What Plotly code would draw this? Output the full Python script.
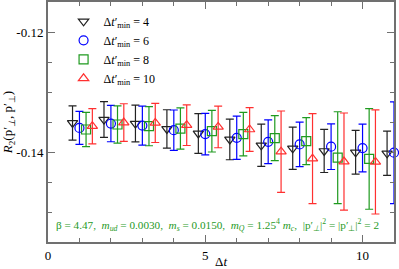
import plotly.graph_objects as go

dt = [1, 2, 3, 4, 5, 6, 7, 8, 9, 10, 11]

# Δt'_min = 4
r4 = [-0.13516, -0.13459, -0.13526, -0.13615, -0.13691, -0.1379, -0.13889, -0.13939, -0.13983, -0.14005, -0.14022]
e4 = [0.00286, 0.00298, 0.00306, 0.00319, 0.00331, 0.00339, 0.00352, 0.00352, 0.00359, 0.00364, 0.00369]
# Δt'_min = 6
r6 = [-0.13598, -0.13526, -0.1356, -0.13636, -0.13702, -0.13763, -0.1383, -0.13873, -0.13912, -0.13934, -0.14011]
e6 = [0.00276, 0.00303, 0.00326, 0.00336, 0.00347, 0.0036, 0.00364, 0.00372, 0.0038, 0.00397, 0.00848]
# Δt'_min = 8
r8 = [-0.13625, -0.13542, -0.1357, -0.13609, -0.13653, -0.13702, -0.13769, -0.13818, -0.14094, -0.14116]
e8 = [0.00286, 0.00311, 0.00326, 0.00344, 0.00347, 0.00364, 0.00375, 0.00392, 0.00765, 0.00838]
# Δt'_min = 10
r10 = [-0.1357, -0.1351, -0.13516, -0.13553, -0.13582, -0.13625, -0.13995, -0.14111, -0.1416, -0.14165]
e10 = [0.00293, 0.00314, 0.00326, 0.00339, 0.00347, 0.00364, 0.00678, 0.00749, 0.0081, 0.00868]

labels = ["4", "6", "8", "10"]
series = [r4, r6, r8, r10]
errors = [e4, e6, e8, e10]

offsets = [-0.22, 0.0, 0.21, 0.41]
colors = ["#222222", "#0000ff", "#1f9a1f", "#ff3030"]
symbols = ["triangle-down-open", "circle-open", "square-open", "triangle-up-open"]

FONT = "Liberation Serif"
fig = go.Figure()
for lab, ys, es, off, col, sym in zip(labels, series, errors, offsets, colors, symbols):
    xs = [t + off for t in dt[:len(ys)]]
    fig.add_trace(go.Scatter(
        x=xs, y=ys, mode="markers",
        name="Δ<i>t</i>′<sub>min</sub> = " + lab,
        marker=dict(symbol=sym, size=9, color=col, line=dict(width=1.2, color=col)),
        error_y=dict(type="data", array=es, visible=True, color=col, thickness=1.2, width=4),
        cliponaxis=False,
    ))

AX = "#707070"
axis_common = dict(
    showline=True, linecolor=AX, linewidth=2, mirror="allticks",
    ticks="inside", tickcolor=AX, tickwidth=1.2, ticklen=7,
    showgrid=False, zeroline=False, automargin=False,
    tickfont=dict(family=FONT, size=13, color="black"),
)

fig.update_layout(
    width=399, height=269,
    margin=dict(l=48, r=5, t=2, b=27),
    paper_bgcolor="white", plot_bgcolor="white",
    font=dict(family=FONT, size=13, color="black"),
    showlegend=True,
    legend=dict(x=0.045, y=0.98, xanchor="left", yanchor="top",
                bgcolor="rgba(0,0,0,0)", font=dict(family=FONT, size=12),
                tracegroupgap=0, itemsizing="trace", itemwidth=30),
    xaxis=dict(range=[0, 11], tickvals=[0, 5, 10], ticktext=["0", "5", "10"],
               minor=dict(ticks="inside", dtick=1, tick0=0, ticklen=4, tickcolor=AX, tickwidth=1.2),
               title=dict(text="Δ<i>t</i>", standoff=0, font=dict(family=FONT, size=13)),
               **axis_common),
    yaxis=dict(range=[-0.155, -0.115], tickvals=[-0.14, -0.12], ticktext=["-0.14", "-0.12"],
               minor=dict(ticks="inside", dtick=0.005, tick0=-0.14, ticklen=4, tickcolor=AX, tickwidth=1.2),
               title=dict(text="<i>R</i><sub>2</sub>(p′<sub><i>⊥</i></sub>, p′<sub>⊥</sub>)", standoff=4,
                          font=dict(family=FONT, size=13)),
               **axis_common),
)

fig.add_annotation(
    x=0.49, y=0.07, xref="paper", yref="paper", xanchor="center", yanchor="middle",
    showarrow=False,
    text="β = 4.47,  <i>m<sub>ud</sub></i> = 0.0030,  <i>m<sub>s</sub></i> = 0.0150,  "
         "<i>m<sub>Q</sub></i> = 1.25<sup>4</sup> <i>m<sub>c</sub></i>,  |p′<sub><i>⊥</i></sub>|<sup>2</sup> = |p′<sub>⊥</sub>|<sup>2</sup> = 2",
    font=dict(family=FONT, size=11.2, color="#1f9a1f"),
)

fig.write_html("out.html", config={"displayModeBar": False},
               post_script="document.body.style.margin='0';document.body.style.overflow='hidden';")
